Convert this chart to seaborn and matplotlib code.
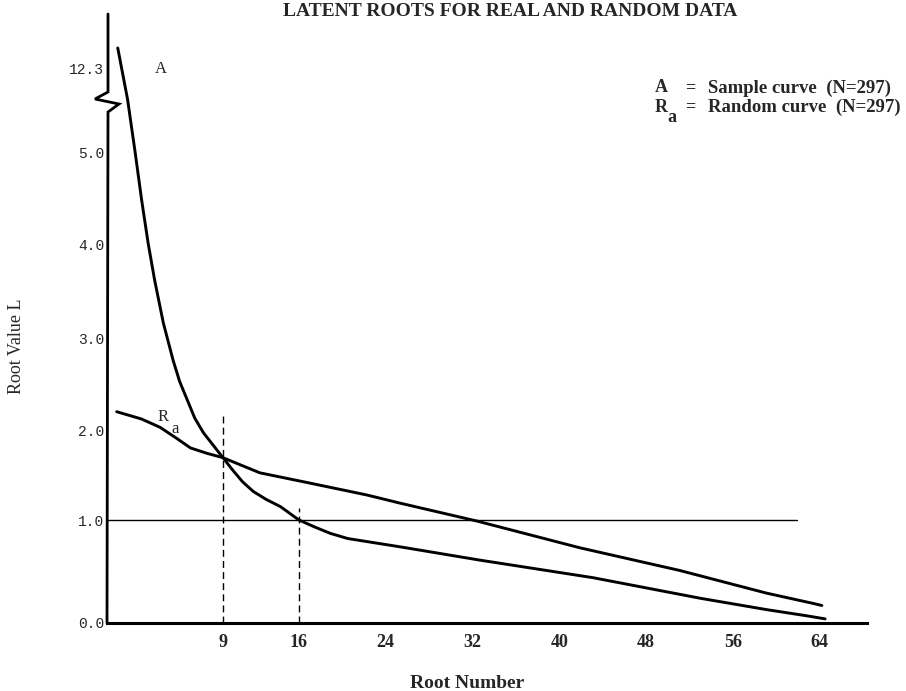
import numpy as np
import pandas as pd
import matplotlib
matplotlib.use("Agg")
import matplotlib.pyplot as plt
import seaborn as sns

# ---------------- data ----------------
title = "LATENT ROOTS FOR REAL AND RANDOM DATA"
x_label = "Root Number"
y_label = "Root Value L"

sample_root = [-0.7, 0.2, 0.9, 1.5, 2.1, 2.7, 3.5, 4.4, 5.0, 5.7, 6.4, 7.2,
               8.1, 9.0, 9.9, 10.8, 11.8, 13.0, 14.3, 16.0, 17.5, 18.9,
               20.5, 22.3, 25.3, 32.7, 43.1, 53.0, 59.1, 62.8, 64.5]
sample_value = [13.0, 11.3, 5.0, 4.48, 4.01, 3.62, 3.17, 2.77, 2.54, 2.34,
                2.14, 1.98, 1.84, 1.70, 1.56, 1.43, 1.32, 1.23, 1.15, 1.0,
                0.93, 0.87, 0.82, 0.79, 0.74, 0.61, 0.44, 0.24, 0.13, 0.07,
                0.04]

random_root = [-0.8, 1.5, 3.2, 4.7, 6.0, 7.5, 9.0, 12.4, 16.8, 22.3, 25.3,
               32.4, 41.9, 51.1, 59.1, 63.4, 64.2]
random_value = [2.21, 2.13, 2.04, 1.92, 1.81, 1.75, 1.70, 1.53, 1.42, 1.28,
                1.19, 0.99, 0.73, 0.51, 0.29, 0.19, 0.17]

threshold = 1.0
threshold_end = 61.9
cut_roots = [9, 16]
cut_tops = [2.16, 1.13]

x_ticks = [9, 16, 24, 32, 40, 48, 56, 64]
y_ticks = [0, 1, 2, 3, 4, 5, 12.3]
y_tick_labels = ["0.0", "1.0", "2.0", "3.0", "4.0", "5.0", "12.3"]

legend_lines = [("A", "", "Sample curve  (N=297)"),
                ("R", "a", "Random curve  (N=297)")]

# ---------------- styling ----------------
sns.set_theme(style="white")
plt.rcParams["font.family"] = ["Liberation Serif", "DejaVu Serif"]

W, H = 906, 691
fig = plt.figure(figsize=(W / 100, H / 100), dpi=100)
fig.patch.set_facecolor("white")
L, R, B, T = 107, 867, 623, 14
ax = fig.add_axes([L / W, 1 - B / H, (R - L) / W, (B - T) / H])
ax.set_facecolor("white")

df_a = pd.DataFrame({"root": sample_root, "value": sample_value})
df_r = pd.DataFrame({"root": random_root, "value": random_value})
sns.lineplot(data=df_a, x="root", y="value", ax=ax, color="black", lw=2.1,
             estimator=None, sort=False)
sns.lineplot(data=df_r, x="root", y="value", ax=ax, color="black", lw=2.1,
             estimator=None, sort=False)

# broken y axis: piecewise scale (hand-drawn spacing, break above 5.5)
V = np.array([-100, 0, 1, 2, 3, 4, 5, 5.5, 11.2, 12.3, 14.13, 100.0])
Hh = np.array([-10300, 0, 103, 192, 284, 379, 471, 517, 521, 554, 609,
               609 + (100 - 14.13) * 30])

def fwd(v):
    return np.interp(v, V, Hh)

def inv(h):
    return np.interp(h, Hh, V)

ax.set_yscale("function", functions=(fwd, inv))
ax.set_xlim(-1.69, 68.36)
ax.set_ylim(0, 14.13)

# reference line and cut markers
ax.plot([ax.get_xlim()[0], threshold_end], [threshold, threshold],
        color="black", lw=1.0, zorder=1)
for xr, top in zip(cut_roots, cut_tops):
    ax.plot([xr, xr], [0, top], color="black", lw=1.0, ls=(0, (5, 3)),
            zorder=1)

# ticks
ax.set_xticks(x_ticks)
ax.set_xticklabels([str(t) for t in x_ticks], fontweight="bold",
                   fontsize=13, family=["Liberation Serif"])
ax.set_yticks(y_ticks)
ax.set_yticklabels(y_tick_labels, fontsize=10.5, family=["Liberation Mono"])
ax.yaxis.set_minor_locator(matplotlib.ticker.NullLocator())
ax.tick_params(axis="x", length=0, pad=8)
ax.tick_params(axis="y", length=0, pad=2)
ax.grid(False)
ax.set_xlabel("")
ax.set_ylabel("")

# spines
for s in ["top", "right", "left"]:
    ax.spines[s].set_visible(False)
ax.spines["bottom"].set_linewidth(2.2)
ax.spines["bottom"].set_color("black")

def fx(px):
    return (px - L) / (R - L)

def fy(py):
    return (B - py) / (B - T)

axis_x = [fx(108), fx(108), fx(95), fx(119), fx(108), fx(107)]
axis_y = [fy(T), fy(92), fy(99), fy(104), fy(112), fy(B)]
ax.plot(axis_x, axis_y, transform=ax.transAxes, color="black", lw=2.0,
        clip_on=False, solid_joinstyle="miter")

# curve labels
ax.text(3.3, 12.3, "A", fontsize=12, ha="center", va="center")
ax.text(3.5, 2.15, "R", fontsize=12, ha="center", va="center")
ax.text(4.6, 2.02, "a", fontsize=12, ha="center", va="center")

# title, axis labels, legend text (figure pixel positions)
def ftext(px, py, s, **kw):
    fig.text(px / W, 1 - py / H, s, **kw)

ftext(510, 11, title, fontsize=14, fontweight="bold", ha="center",
      va="center")
ftext(467, 684, x_label, fontsize=14, fontweight="bold", ha="center",
      va="center")
ftext(17, 346, y_label, fontsize=13, rotation=90, ha="center",
      va="center")

for i, (sym, sub, txt) in enumerate(legend_lines):
    py = 88 + i * 19
    ftext(655, py, sym, fontsize=13, fontweight="bold", ha="left",
          va="center")
    if sub:
        ftext(667, py + 11, sub, fontsize=13, fontweight="bold",
              ha="left", va="center")
    ftext(685, py, "=", fontsize=13, fontweight="bold", ha="left",
          va="center")
    ftext(708, py, txt, fontsize=13.5, fontweight="bold", ha="left",
          va="center")

fig.savefig("out.png", dpi=100, facecolor="white")
